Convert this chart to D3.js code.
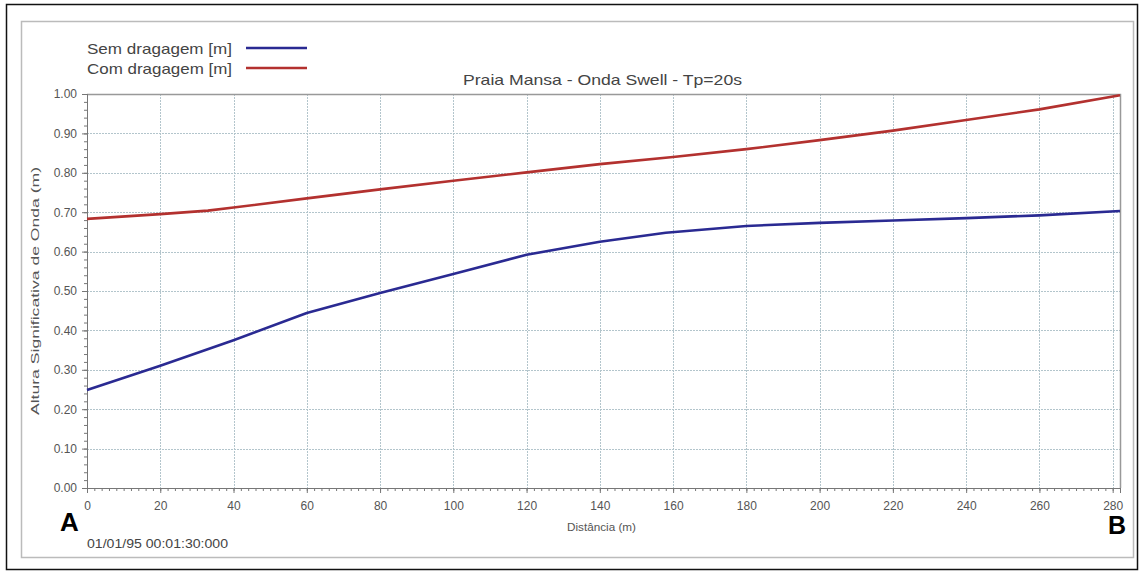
<!DOCTYPE html>
<html>
<head>
<meta charset="utf-8">
<script src="https://cdn.jsdelivr.net/npm/d3@7"></script>
<style>
  html, body { margin: 0; padding: 0; background: #fff; }
  text { font-family: 'Liberation Sans', Arial, sans-serif; }
</style>
</head>
<body>
<div id="chart"></div>
<script>
// distance (m) along profile A-B
const semX = [0, 20, 40, 60, 80, 100, 120, 140, 158, 180, 200, 220, 240, 260, 282]
const semY = [0.249, 0.310, 0.375, 0.444, 0.495, 0.543, 0.592, 0.625, 0.648, 0.665, 0.673, 0.679, 0.685, 0.692, 0.703]

const comX = [0, 20, 33, 40, 60, 80, 100, 120, 140, 160, 180, 200, 220, 240, 260, 282]
const comY = [0.683, 0.695, 0.704, 0.712, 0.735, 0.758, 0.780, 0.801, 0.822, 0.840, 0.860, 0.883, 0.907, 0.934, 0.961, 0.997]

const xTicks = [0, 20, 40, 60, 80, 100, 120, 140, 160, 180, 200, 220, 240, 260, 280]
const yTicks = [0, 0.1, 0.2, 0.3, 0.4, 0.5, 0.6, 0.7, 0.8, 0.9, 1.0]

const seriesNames = ['Sem dragagem [m]', 'Com dragagem [m]']
const seriesColors = ['#2a2a92', '#b3312f']

const title = 'Praia Mansa - Onda Swell - Tp=20s'
const xLabel = 'Distância (m)'
const yLabel = 'Altura Significativa de Onda (m)'
const stamp = '01/01/95 00:01:30:000'

const width = 1141
const height = 574
const margin = { top: 94, right: 21, bottom: 86, left: 87 }

const svg = d3
  .select('#chart')
  .append('svg')
  .attr('width', width)
  .attr('height', height)

// frames
svg.append('rect')
  .attr('x', 6.5).attr('y', 4.5)
  .attr('width', 1131).attr('height', 565)
  .attr('fill', '#fff').attr('stroke', '#111').attr('stroke-width', 1.5)

svg.append('rect')
  .attr('x', 21.5).attr('y', 21.5)
  .attr('width', 1112).attr('height', 536)
  .attr('fill', 'none').attr('stroke', '#bbb').attr('stroke-width', 1.5)

const x = d3.scaleLinear()
  .domain([0, 282])
  .range([margin.left, width - margin.right])

const y = d3.scaleLinear()
  .domain([0, 1])
  .range([height - margin.bottom, margin.top])

const x0 = x.range()[0], x1 = x.range()[1]
const y0 = y.range()[0], y1 = y.range()[1]

// grid
const grid = svg.append('g')
  .attr('stroke', '#b3c5cc')
  .attr('stroke-width', 1)
  .attr('stroke-dasharray', '2,1')

grid.selectAll('.gx')
  .data(xTicks.filter(d => d > 0))
  .join('line')
  .attr('x1', d => Math.round(x(d)) + 0.5)
  .attr('x2', d => Math.round(x(d)) + 0.5)
  .attr('y1', y1).attr('y2', y0)

grid.selectAll('.gy')
  .data(yTicks.filter(d => d > 0 && d < 1))
  .join('line')
  .attr('x1', x0).attr('x2', x1)
  .attr('y1', d => Math.round(y(d)) + 0.5)
  .attr('y2', d => Math.round(y(d)) + 0.5)

// plot frame top/right
svg.append('path')
  .attr('d', `M${x0},${y1 + 0.5}H${x1 + 0.5}V${y0}`)
  .attr('fill', 'none')
  .attr('stroke', '#999')
  .attr('stroke-width', 1.5)

// axes
const xAxis = g => g
  .attr('transform', `translate(0, ${y0})`)
  .call(d3.axisBottom(x).tickValues(xTicks).tickFormat(d3.format('d')).tickSize(5).tickPadding(8))

const xMinor = g => g
  .attr('transform', `translate(0, ${y0})`)
  .call(d3.axisBottom(x).tickValues(d3.range(0, 283, 2)).tickFormat('').tickSize(3))

const yAxis = g => g
  .attr('transform', `translate(${x0}, 0)`)
  .call(d3.axisLeft(y).tickValues(yTicks).tickFormat(d3.format('.2f')).tickSize(5).tickPadding(5))

const yMinor = g => g
  .attr('transform', `translate(${x0}, 0)`)
  .call(d3.axisLeft(y).tickValues(d3.range(0, 51).map(i => i * 0.02)).tickFormat('').tickSize(3))

for (const ax of [xMinor, yMinor, xAxis, yAxis]) {
  const g = svg.append('g').call(ax)
  g.selectAll('.domain').attr('stroke', '#777')
  g.selectAll('.tick line').attr('stroke', '#777')
  g.selectAll('.tick text')
    .attr('fill', '#555')
    .style('font-size', '12px')
    .style('font-family', "'Liberation Sans', Arial, sans-serif")
}

// series
const line = d3.line()
  .x(d => x(d[0]))
  .y(d => y(d[1]))

const series = [
  d3.zip(semX, semY),
  d3.zip(comX, comY)
]

series.forEach((s, i) => {
  svg.append('path')
    .datum(s)
    .attr('fill', 'none')
    .attr('stroke', seriesColors[i])
    .attr('stroke-width', 2.6)
    .attr('stroke-linejoin', 'round')
    .attr('d', line)
})

// legend
seriesNames.forEach((name, i) => {
  const ly = 48 + i * 20
  svg.append('text')
    .attr('x', 87).attr('y', ly + 6)
    .attr('fill', '#444')
    .attr('textLength', 145)
    .attr('lengthAdjust', 'spacingAndGlyphs')
    .style('font-size', '15px')
    .text(name)
  svg.append('line')
    .attr('x1', 246).attr('x2', 307)
    .attr('y1', ly).attr('y2', ly)
    .attr('stroke', seriesColors[i])
    .attr('stroke-width', 2.6)
})

// title
svg.append('text')
  .attr('x', 463).attr('y', 85)
  .attr('fill', '#444')
  .attr('textLength', 279)
  .attr('lengthAdjust', 'spacingAndGlyphs')
  .style('font-size', '15px')
  .text(title)

// axis labels
svg.append('text')
  .attr('x', 567).attr('y', 531)
  .attr('fill', '#555')
  .attr('textLength', 69)
  .attr('lengthAdjust', 'spacingAndGlyphs')
  .style('font-size', '11px')
  .text(xLabel)

svg.append('text')
  .attr('transform', `translate(39, ${(y0 + y1) / 2 + 124}) rotate(-90)`)
  .attr('fill', '#555')
  .attr('textLength', 248)
  .attr('lengthAdjust', 'spacingAndGlyphs')
  .style('font-size', '10px')
  .text(yLabel)

svg.append('text')
  .attr('x', 87).attr('y', 548)
  .attr('fill', '#444')
  .attr('textLength', 141)
  .attr('lengthAdjust', 'spacingAndGlyphs')
  .style('font-size', '12px')
  .text(stamp)

// profile ends
svg.append('text')
  .attr('x', 60).attr('y', 531)
  .attr('fill', '#000')
  .style('font-size', '26px')
  .style('font-weight', 'bold')
  .text('A')

svg.append('text')
  .attr('x', 1108).attr('y', 534)
  .attr('fill', '#000')
  .style('font-size', '25px')
  .style('font-weight', 'bold')
  .text('B')
</script>
</body>
</html>
